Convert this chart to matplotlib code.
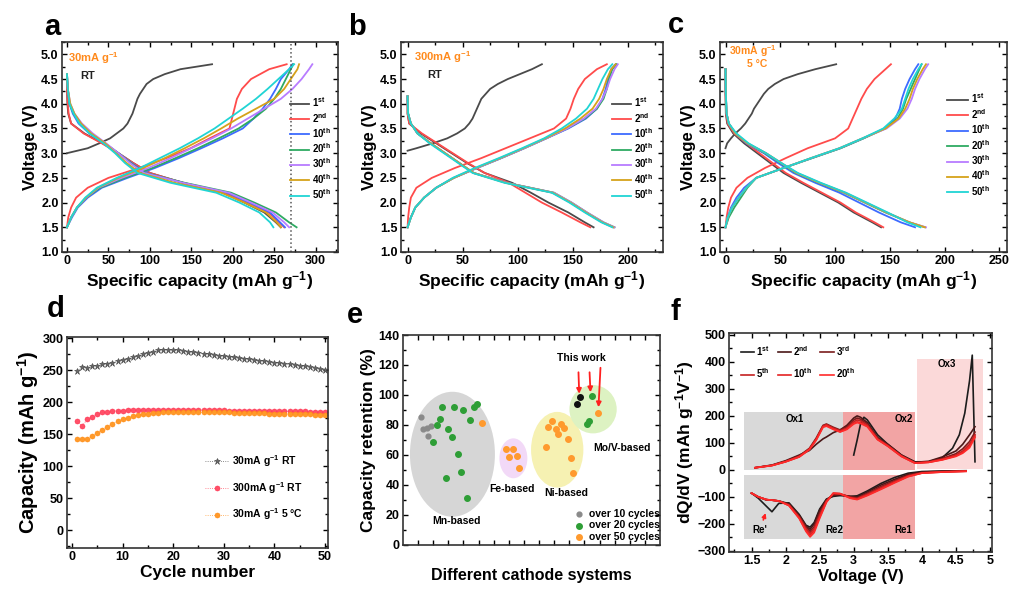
import numpy as np
import matplotlib.pyplot as plt
from matplotlib.patches import Ellipse, Rectangle
from matplotlib.ticker import MultipleLocator, AutoMinorLocator

plt.rcParams['font.family'] = ['Liberation Sans', 'DejaVu Sans']
plt.rcParams['font.weight'] = 'bold'
plt.rcParams['axes.labelweight'] = 'bold'
plt.rcParams['mathtext.default'] = 'regular'

ORANGE = '#FF8A1C'

# ---------------- charge / discharge profiles (a, b, c) ----------------
cycle_labels = ['1$^{st}$', '2$^{nd}$', '10$^{th}$', '20$^{th}$', '30$^{th}$', '40$^{th}$', '50$^{th}$']
cycle_colors = ['#4a4a4a', '#FF4B4B', '#3D6BFF', '#2EAA62', '#B87CFF', '#D5A21A', '#20D4D4']

v_chg = [1.5, 1.7, 1.9, 2.1, 2.3, 2.5, 2.7, 2.9, 3.1, 3.3, 3.5, 3.7, 3.9, 4.1, 4.3, 4.5, 4.7, 4.8]

# panel a : 30 mA/g, RT
a_v_first = [3.0, 3.1, 3.2, 3.3, 3.4, 3.5, 3.6, 3.7, 3.8, 3.9, 4.0, 4.1, 4.2, 4.3, 4.4, 4.5, 4.6, 4.7, 4.8]
a_cap_first = [0, 25, 39, 52, 60, 68, 73, 76, 79, 81, 83, 85, 88, 92, 96, 104, 118, 137, 175]
a_chg = [
    [0, 1.5, 5, 11, 25, 50, 87, 120, 149, 172, 196, 199, 202, 205, 211, 222, 244, 265],
    [0, 6, 13, 25, 42, 73, 106, 135, 162, 188, 212, 225, 236, 245, 252, 258, 268, 272],
    [0, 5, 12, 23, 40, 70, 103, 131, 158, 183, 207, 225, 240, 250, 258, 264, 270, 273],
    [0, 5, 12, 23, 38, 66, 98, 125, 150, 175, 198, 218, 238, 258, 272, 283, 292, 296],
    [0, 5, 12, 23, 37, 62, 92, 118, 142, 165, 186, 206, 228, 250, 262, 270, 278, 280],
    [0, 5, 12, 22, 36, 60, 88, 112, 136, 158, 178, 195, 212, 228, 242, 255, 268, 274],
]
a_v_dis = [4.6, 4.3, 4.0, 3.8, 3.6, 3.4, 3.2, 3.0, 2.8, 2.6, 2.4, 2.2, 2.0, 1.8, 1.6, 1.5]
a_dis = [
    [0, 0, 0.5, 1.5, 5, 21, 43, 62, 80, 100, 140, 188, 214, 238, 252, 258],
    [0, 0, 1, 2, 5, 20, 42, 62, 80, 100, 140, 190, 218, 243, 256, 262],
    [0, 1, 3, 7, 14, 27, 45, 62, 78, 95, 140, 193, 220, 245, 257, 263],
    [0, 1, 3, 8, 16, 29, 46, 62, 77, 94, 142, 198, 226, 252, 268, 277],
    [0, 1, 4, 9, 18, 31, 47, 62, 76, 93, 140, 195, 222, 248, 262, 268],
    [0, 1, 4, 9, 17, 29, 46, 59, 72, 88, 130, 186, 214, 240, 253, 258],
    [0, 1, 3, 8, 15, 27, 44, 58, 70, 85, 125, 180, 208, 232, 245, 249],
]

# panel b : 300 mA/g, RT
b_v_first = [3.05, 3.1, 3.2, 3.3, 3.4, 3.5, 3.6, 3.7, 3.8, 3.9, 4.0, 4.1, 4.2, 4.3, 4.4, 4.5, 4.6, 4.7, 4.8]
b_cap_first = [0, 8, 23, 36, 45, 52, 56, 59, 61, 63, 65, 67, 71, 75, 82, 91, 102, 113, 122]
b_chg = [
    [0, 0.5, 1.5, 3, 8, 22, 43, 67, 89, 111, 133, 144, 148, 151, 155, 161, 172, 181],
    [0, 3, 7, 15, 26, 42, 63, 85, 106, 126, 146, 162, 172, 177, 180, 182, 185, 189],
    [0, 3, 7, 15, 26, 42, 63, 85, 106, 126, 145, 161, 172, 178, 181, 183, 186, 190],
    [0, 3, 7, 15, 26, 42, 63, 85, 106, 126, 145, 160, 171, 177, 181, 184, 188, 191],
    [0, 3, 7, 15, 26, 42, 62, 84, 105, 125, 143, 157, 168, 174, 178, 181, 185, 189],
    [0, 3, 7, 15, 26, 41, 61, 83, 104, 124, 140, 153, 163, 169, 173, 177, 182, 186],
]
b_v_dis = [4.15, 3.8, 3.6, 3.4, 3.2, 3.0, 2.8, 2.6, 2.4, 2.2, 2.0, 1.8, 1.6, 1.5]
b_dis = [
    [0, 0, 1.5, 12, 26, 40, 54, 70, 95, 112, 128, 146, 161, 169],
    [0, 0, 1.5, 13, 27, 41, 55, 70, 92, 107, 122, 140, 157, 166],
    [0, 0.5, 3, 9, 21, 34, 47, 60, 90, 132, 148, 162, 177, 187],
    [0, 0.5, 3, 9, 21, 34, 47, 60, 90, 133, 149, 163, 178, 188],
    [0, 0.5, 3, 9, 21, 34, 47, 60, 90, 133, 149, 163, 178, 188],
    [0, 0.5, 3, 9, 21, 34, 47, 60, 89, 132, 148, 162, 177, 187],
    [0, 0.5, 3, 9, 20, 33, 46, 59, 88, 131, 147, 161, 176, 186],
]

# panel c : 30 mA/g, 5 C
c_v_first = [3.1, 3.2, 3.3, 3.4, 3.5, 3.6, 3.7, 3.8, 3.9, 4.0, 4.1, 4.2, 4.3, 4.4, 4.5, 4.6, 4.7, 4.8]
c_cap_first = [0, 1.5, 5, 9, 14, 18, 21, 24, 26, 29, 32, 35, 39, 45, 53, 66, 82, 101]
c_chg = [
    [0, 1, 2.5, 5, 10, 20, 36, 55, 75, 100, 112, 116, 120, 124, 129, 136, 146, 151],
    [0, 2, 5, 10, 17, 28, 53, 79, 105, 126, 145, 155, 159, 161, 164, 168, 173, 176],
    [0, 3, 8, 14, 20, 28, 53, 79, 105, 126, 146, 157, 162, 165, 169, 173, 177, 179],
    [0, 2, 6, 12, 19, 28, 53, 78, 104, 125, 147, 159, 166, 170, 173, 177, 182, 185],
    [0, 2, 6, 12, 19, 28, 53, 78, 104, 125, 146, 158, 164, 168, 171, 175, 180, 183],
    [0, 2, 6, 12, 19, 28, 53, 78, 104, 125, 144, 154, 161, 164, 167, 171, 176, 179],
]
c_v_dis = [4.7, 4.2, 3.8, 3.6, 3.4, 3.2, 3.0, 2.8, 2.6, 2.4, 2.2, 2.0, 1.8, 1.6, 1.5]
c_dis = [
    [0, 0, 0.3, 1.5, 7, 17, 29, 41, 53, 69, 86, 103, 117, 134, 142],
    [0, 0, 0.5, 2, 8, 19, 31, 43, 55, 71, 88, 105, 119, 136, 144],
    [0, 0.3, 1, 3, 9, 19, 35, 48, 62, 82, 104, 122, 140, 160, 173],
    [0, 0.3, 1, 3, 9, 20, 36, 50, 64, 85, 108, 127, 146, 168, 182],
    [0, 0.3, 1, 3, 9, 20, 37, 51, 65, 86, 109, 128, 147, 168, 183],
    [0, 0.3, 1, 3, 9, 20, 37, 51, 65, 86, 109, 128, 147, 168, 182],
    [0, 0.3, 1, 3, 10, 21, 37, 51, 66, 87, 110, 129, 148, 166, 178],
]

# ---------------- cycling (d) ----------------
cycle_no = list(range(1, 51))
cap_30_rt = [249, 255, 254, 256, 257, 259, 260, 262, 264, 266,
             268, 270, 272, 275, 277, 279, 281, 282, 282, 281,
             281, 280, 279, 278, 277, 276, 275, 274, 273, 272,
             271, 270, 269, 268, 267, 266, 265, 264, 263, 262,
             261, 260, 259, 258, 257, 256, 255, 253, 252, 250]
cap_300_rt = [170, 163, 173, 177, 181, 184, 185, 186, 187, 187,
              188, 188, 188, 188, 188, 188, 188, 188, 188, 188,
              188, 188, 188, 188, 188, 188, 188, 188, 188, 188,
              187, 187, 187, 187, 187, 187, 187, 187, 187, 186,
              186, 186, 186, 186, 186, 186, 185, 185, 185, 185]
cap_30_5c = [143, 142, 143, 147, 152, 157, 162, 166, 170, 173,
             176, 178, 180, 181, 182, 183, 183, 184, 184, 184,
             184, 184, 184, 184, 184, 184, 184, 184, 184, 184,
             184, 183, 183, 183, 183, 183, 183, 183, 182, 182,
             182, 182, 182, 181, 181, 181, 181, 180, 180, 180]

# ---------------- literature comparison (e) ----------------
grey_x = [1.19, 1.34, 1.57, 1.83, 1.63]
grey_y = [85.1, 77.3, 78.2, 79.3, 72.7]
green_x = [2.6, 3.39, 3.99, 4.7, 4.87, 2.45, 2.23, 2.0, 3.0, 3.22, 4.43, 3.62, 3.82, 2.84, 4.21, 12.48, 12.15, 12.3]
green_y = [91.8, 91.8, 90, 91.8, 94, 83.8, 80, 68.9, 77.3, 72.2, 83.3, 60.4, 48.9, 44.4, 31.6, 99.3, 80.4, 82.9]
orange_x = [5.22, 6.81, 7.3, 7.03, 7.52, 7.65, 9.83, 9.61, 10.12, 10.43, 10.65, 10.27, 10.89, 9.46, 11.09, 11.26, 12.92]
orange_y = [81.1, 63.8, 63.8, 58.4, 59.3, 51.6, 82.9, 78.4, 77.1, 80.4, 78.2, 73.8, 70.4, 65.6, 57.8, 48.2, 88.2]
this_x = [11.48, 11.71]
this_y = [94, 98.9]

# ---------------- dQ/dV (f) ----------------
f_labels = ['1$^{st}$', '2$^{nd}$', '3$^{rd}$', '5$^{th}$', '10$^{th}$', '20$^{th}$']
f_colors = ['#1c1c1c', '#4a1818', '#7a1c1c', '#c42020', '#e42222', '#ff2a2a']
f_v_chg = [1.55, 1.8, 2.0, 2.2, 2.35, 2.45, 2.55, 2.6, 2.7, 2.8, 2.9, 3.0, 3.05, 3.1, 3.2, 3.35, 3.5, 3.7, 3.9, 4.1, 4.3, 4.5, 4.6, 4.7, 4.78]
f_v_first = [3.0, 3.05, 3.1, 3.15, 3.2, 3.35, 3.5, 3.7, 3.9, 4.1, 4.3, 4.45, 4.55, 4.63, 4.7, 4.74, 4.78]
f_q_first = [55, 110, 170, 195, 185, 130, 95, 55, 30, 30, 45, 80, 130, 210, 330, 425, 30]
f_q_chg = [
    [8, 18, 34, 55, 72, 95, 115, 122, 138, 148, 165, 192, 200, 195, 175, 120, 95, 55, 28, 32, 48, 70, 95, 130, 160],
    [8, 17, 32, 52, 80, 118, 165, 170, 158, 148, 160, 185, 192, 188, 170, 118, 92, 53, 27, 30, 42, 60, 78, 105, 140],
    [8, 17, 31, 50, 78, 115, 163, 168, 155, 145, 155, 178, 185, 182, 166, 115, 90, 52, 26, 29, 40, 55, 70, 95, 130],
    [8, 16, 30, 48, 76, 112, 160, 165, 152, 142, 152, 172, 178, 175, 162, 113, 88, 50, 25, 28, 38, 52, 65, 88, 125],
    [8, 16, 30, 48, 75, 110, 158, 162, 150, 140, 150, 170, 175, 172, 160, 112, 88, 50, 25, 28, 37, 50, 62, 82, 120],
]
f_v_dis = [4.65, 4.3, 4.0, 3.8, 3.6, 3.4, 3.2, 3.05, 2.95, 2.8, 2.7, 2.6, 2.5, 2.42, 2.36, 2.3, 2.2, 2.05, 1.9, 1.8, 1.72, 1.6, 1.5]
f_q_dis = [
    [-3, -4, -6, -12, -28, -50, -78, -96, -98, -95, -98, -108, -145, -195, -212, -205, -165, -122, -124, -155, -135, -105, -86],
    [-4, -5, -8, -16, -35, -56, -82, -100, -98, -92, -95, -110, -150, -200, -220, -208, -168, -125, -115, -112, -112, -100, -86],
    [-4, -6, -10, -20, -40, -62, -87, -104, -100, -90, -92, -112, -160, -210, -228, -212, -172, -128, -115, -112, -110, -100, -86],
    [-5, -7, -11, -22, -43, -66, -90, -106, -102, -88, -88, -115, -168, -218, -235, -218, -175, -130, -115, -112, -110, -100, -86],
    [-5, -8, -12, -24, -46, -70, -93, -108, -104, -88, -86, -118, -175, -225, -242, -224, -178, -132, -115, -112, -110, -100, -86],
    [-5, -8, -12, -25, -48, -72, -95, -110, -105, -88, -86, -120, -180, -232, -248, -228, -180, -132, -115, -112, -110, -100, -86],
]


def style(ax, xminor=2, yminor=2):
    ax.tick_params(direction='in', which='both', top=True, right=True, labelsize=9, width=1, pad=2.5)
    ax.tick_params(which='major', length=3.5)
    ax.tick_params(which='minor', length=2)
    ax.xaxis.set_minor_locator(AutoMinorLocator(xminor))
    ax.yaxis.set_minor_locator(AutoMinorLocator(yminor))
    for s in ax.spines.values():
        s.set_linewidth(1.2)
        s.set_color('#333333')


def profile_panel(ax, v_first, cap_first, chg, v_dis, dis, xlim, xstep):
    ax.plot(cap_first, v_first, color=cycle_colors[0], lw=1.3, label=cycle_labels[0])
    ax.plot(dis[0], v_dis, color=cycle_colors[0], lw=1.3)
    for i in range(1, 7):
        ax.plot(chg[i - 1], v_chg, color=cycle_colors[i], lw=1.3, label=cycle_labels[i])
        ax.plot(dis[i], v_dis, color=cycle_colors[i], lw=1.3)
    ax.set_xlim(*xlim)
    ax.set_ylim(1.0, 5.25)
    ax.xaxis.set_major_locator(MultipleLocator(xstep))
    ax.yaxis.set_major_locator(MultipleLocator(0.5))
    ax.yaxis.set_major_formatter('{x:.1f}')
    style(ax)
    ax.set_xlabel('Specific capacity (mAh g$^{-1}$)', fontsize=12.5, labelpad=1)
    ax.set_ylabel('Voltage (V)', fontsize=12, labelpad=2)


fig = plt.figure(figsize=(10.1, 5.9), dpi=100)

# a
ax = fig.add_axes([0.0614, 0.5729, 0.2733, 0.3559])
profile_panel(ax, a_v_first, a_cap_first, a_chg, a_v_dis, a_dis, (-6, 327), 50)
ax.axvline(270, color='#555555', ls=':', lw=1.1)
ax.text(0.02, 0.925, '30mA g$^{-1}$', transform=ax.transAxes, color=ORANGE, fontsize=8, va='center')
ax.text(0.065, 0.838, 'RT', transform=ax.transAxes, color='#222222', fontsize=8, va='center')
ax.legend(loc='upper left', bbox_to_anchor=(0.825, 0.745), frameon=False, fontsize=7, handlelength=2.0,
          handletextpad=0.3, labelspacing=0.15, borderpad=0, borderaxespad=0)

# b
ax = fig.add_axes([0.397, 0.5729, 0.2594, 0.3559])
profile_panel(ax, b_v_first, b_cap_first, b_chg, b_v_dis, b_dis, (-6, 232), 50)
ax.text(0.05, 0.929, '300mA g$^{-1}$', transform=ax.transAxes, color=ORANGE, fontsize=8, va='center')
ax.text(0.099, 0.843, 'RT', transform=ax.transAxes, color='#222222', fontsize=8, va='center')
ax.legend(loc='upper left', bbox_to_anchor=(0.805, 0.745), frameon=False, fontsize=7, handlelength=2.0,
          handletextpad=0.3, labelspacing=0.15, borderpad=0, borderaxespad=0)

# c
ax = fig.add_axes([0.7129, 0.5729, 0.2842, 0.3559])
profile_panel(ax, c_v_first, c_cap_first, c_chg, c_v_dis, c_dis, (-5, 257), 50)
ax.text(0.031, 0.958, '30mA g$^{-1}$', transform=ax.transAxes, color=ORANGE, fontsize=7.5, va='center')
ax.text(0.094, 0.893, '5 °C', transform=ax.transAxes, color=ORANGE, fontsize=7.5, va='center')
ax.legend(loc='upper left', bbox_to_anchor=(0.79, 0.765), frameon=False, fontsize=7, handlelength=2.2,
          handletextpad=0.3, labelspacing=0.17, borderpad=0, borderaxespad=0)

# d
ax = fig.add_axes([0.0663, 0.0712, 0.2584, 0.3576])
ax.plot(cycle_no, cap_30_rt, color='#666666', lw=0.6, ls=':', marker='*', ms=4.5,
        markerfacecolor='#666666', markeredgecolor='#444444', markeredgewidth=0.4, label='30mA g$^{-1}$ RT')
ax.plot(cycle_no, cap_300_rt, color='#FF6070', lw=0.6, ls=':', marker='o', ms=3.6,
        markerfacecolor='#FF5068', markeredgecolor='#FF3050', markeredgewidth=0.4, label='300mA g$^{-1}$ RT')
ax.plot(cycle_no, cap_30_5c, color='#FFA040', lw=0.6, ls=':', marker='o', ms=3.6,
        markerfacecolor='#FF9A2A', markeredgecolor='#FF8A10', markeredgewidth=0.4, label='30mA g$^{-1}$ 5 °C')
ax.set_xlim(-1, 50.6)
ax.set_ylim(-28, 302)
ax.xaxis.set_major_locator(MultipleLocator(10))
ax.yaxis.set_major_locator(MultipleLocator(50))
style(ax)
ax.set_xlabel('Cycle number', fontsize=12.5, labelpad=1)
ax.set_ylabel('Capacity (mAh g$^{-1}$)', fontsize=14.5, labelpad=1)
ax.legend(loc='upper left', bbox_to_anchor=(0.53, 0.45), frameon=False, fontsize=7.5, handlelength=2.2,
          handletextpad=0.4, labelspacing=1.05, borderpad=0, borderaxespad=0)

# e
ax = fig.add_axes([0.399, 0.0763, 0.2545, 0.3559])
ax.add_patch(Ellipse((3.27, 60.5), 5.62, 83.3, color='#D6D6D6', lw=0))
ax.add_patch(Ellipse((7.3, 57.8), 1.85, 26.6, color='#F2D9F7', lw=0))
ax.add_patch(Ellipse((10.2, 63.5), 3.46, 50.5, color='#F6F1B2', lw=0))
ax.add_patch(Ellipse((12.57, 90.5), 3.13, 32.2, color='#DDF2C2', lw=0))
ax.scatter(grey_x, grey_y, s=12, color='#8a8a8a', zorder=3, label='over 10 cycles')
ax.scatter(green_x, green_y, s=16, color='#2E9E36', zorder=3, label='over 20 cycles')
ax.scatter(orange_x, orange_y, s=16, color='#FF9A2E', zorder=3, label='over 50 cycles')
ax.scatter(this_x, this_y, s=16, color='#111111', zorder=3)
for x0, y0, x1, y1 in [(11.6, 117, 11.66, 99), (12.33, 117, 12.41, 100), (13.07, 120, 12.92, 90)]:
    ax.annotate('', xy=(x1, y1), xytext=(x0, y0),
                arrowprops=dict(arrowstyle='-|>', color='#FF2020', lw=1.3, mutation_scale=7))
ax.text(11.82, 124.5, 'This work', fontsize=7.5, ha='center', va='center')
ax.text(3.55, 16.2, 'Mn-based', fontsize=7.5, ha='center', va='center')
ax.text(7.19, 37.1, 'Fe-based', fontsize=7.5, ha='center', va='center')
ax.text(10.78, 34.4, 'Ni-based', fontsize=7.5, ha='center', va='center')
ax.text(14.46, 64.4, 'Mo/V-based', fontsize=7.5, ha='center', va='center')
ax.set_xlim(0, 17)
ax.set_ylim(0, 140)
ax.set_xticks(np.arange(1, 17))
ax.set_xticklabels([])
ax.yaxis.set_major_locator(MultipleLocator(20))
style(ax)
ax.tick_params(axis='x', which='minor', length=0)
ax.set_xlabel('Different cathode systems', fontsize=11.5, labelpad=14)
ax.set_ylabel('Capacity retention (%)', fontsize=12.5, labelpad=2)
ax.legend(loc='lower right', bbox_to_anchor=(1.0, 0.015), frameon=False, fontsize=7.5, handlelength=1.0,
          handletextpad=0.5, labelspacing=0.15, borderpad=0, borderaxespad=0, markerscale=1.0)

# f
ax = fig.add_axes([0.7218, 0.0644, 0.2604, 0.3712])
ax.add_patch(Rectangle((1.395, 0), 2.84 - 1.395, 215, color='#D9D9D9', lw=0))
ax.add_patch(Rectangle((1.395, -257), 2.84 - 1.395, 237, color='#D9D9D9', lw=0))
ax.add_patch(Rectangle((2.84, 0), 3.90 - 2.84, 215, color='#F2A4A4', lw=0))
ax.add_patch(Rectangle((2.84, -257), 3.90 - 2.84, 237, color='#F2A4A4', lw=0))
ax.add_patch(Rectangle((3.935, 5), 4.90 - 3.935, 405, color='#FBD9D9', lw=0))
handles = []
h, = ax.plot(f_v_first, f_q_first, color=f_colors[0], lw=1.2, label=f_labels[0])
handles.append(h)
for i in range(1, 6):
    h, = ax.plot(f_v_chg, f_q_chg[i - 1], color=f_colors[i], lw=1.2, label=f_labels[i])
    handles.append(h)
for i in range(6):
    ax.plot(f_v_dis, f_q_dis[i], color=f_colors[i], lw=1.2)
ax.annotate('', xy=(1.72, -150), xytext=(1.66, -195),
            arrowprops=dict(arrowstyle='-|>', color='#FF2020', lw=1.2, mutation_scale=6))
ax.text(2.14, 188, 'Ox1', fontsize=7, ha='center', va='center')
ax.text(3.73, 188, 'Ox2', fontsize=7, ha='center', va='center')
ax.text(4.37, 391, 'Ox3', fontsize=7, ha='center', va='center')
ax.text(1.62, -222, "Re'", fontsize=7, ha='center', va='center')
ax.text(2.72, -222, 'Re2', fontsize=7, ha='center', va='center')
ax.text(3.73, -222, 'Re1', fontsize=7, ha='center', va='center')
ax.set_xlim(1.17, 5.03)
ax.set_ylim(-304, 507)
ax.set_xticks([1.5, 2, 2.5, 3, 3.5, 4, 4.5, 5])
ax.set_xticklabels(['1.5', '2', '2.5', '3', '3.5', '4', '4.5', '5'])
ax.yaxis.set_major_locator(MultipleLocator(100))
style(ax)
ax.set_xlabel('Voltage (V)', fontsize=12, labelpad=1)
ax.set_ylabel('dQ/dV (mAh g$^{-1}$V$^{-1}$)', fontsize=12.5, labelpad=1)
order = [0, 3, 1, 4, 2, 5]
ax.legend([handles[k] for k in order], [f_labels[k] for k in order], loc='upper left',
          bbox_to_anchor=(0.045, 0.95), frameon=False, fontsize=7, ncol=3, handlelength=1.4,
          handletextpad=0.2, labelspacing=0.9, columnspacing=0.8, borderpad=0, borderaxespad=0)

# panel letters
for x, y, s in [(0.044, 0.941, 'a'), (0.345, 0.941, 'b'), (0.661, 0.944, 'c'),
                (0.046, 0.463, 'd'), (0.343, 0.453, 'e'), (0.664, 0.458, 'f')]:
    fig.text(x, y, s, fontsize=21, fontweight='bold')

fig.savefig('out.png', dpi=100)
